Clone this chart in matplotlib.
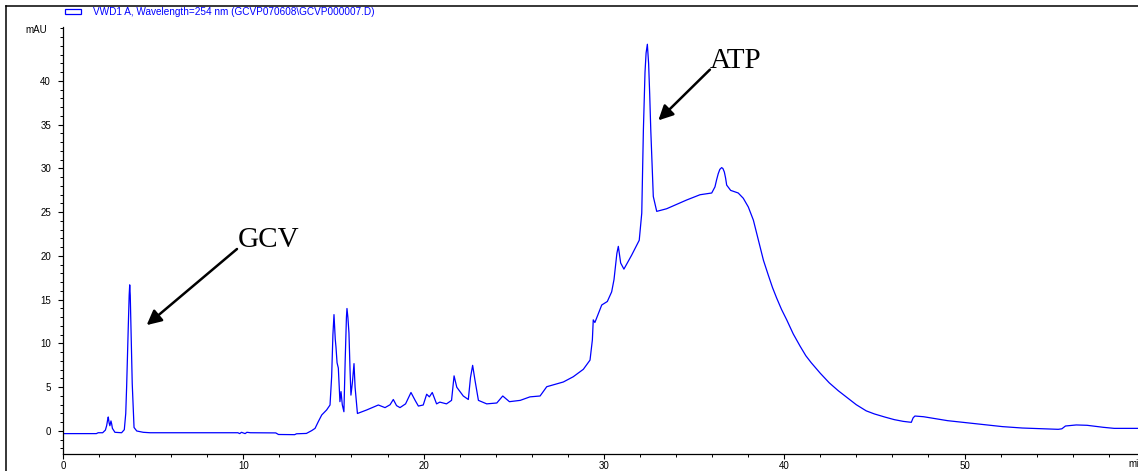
import matplotlib
matplotlib.use("Agg")
import matplotlib.pyplot as plt
from matplotlib.lines import Line2D
from matplotlib.patches import Rectangle
from matplotlib.ticker import MultipleLocator

# Retention time (min) and detector signal (mAU) of the chromatogram trace
retention_time = [
    0.0, 1.85, 1.95, 2.2, 2.35, 2.42, 2.47, 2.51, 2.56, 2.6, 2.66, 2.7, 2.74, 2.88,
    3.25, 3.4, 3.48, 3.53, 3.58, 3.62, 3.67, 3.7, 3.73, 3.77, 3.84, 3.94, 4.09, 4.45, 4.83,
    9.7, 9.8, 9.9, 10.1, 10.2, 10.4, 11.8, 11.95, 12.85, 12.95, 13.5, 13.8, 13.98,
    14.16, 14.35, 14.62, 14.81, 14.9, 14.97, 15.03, 15.1, 15.14, 15.2, 15.27, 15.36,
    15.42, 15.49, 15.58, 15.65, 15.72, 15.75, 15.8, 15.86, 15.92, 15.97, 16.05, 16.14,
    16.2, 16.33, 16.84, 17.49, 17.86, 18.14, 18.32, 18.5, 18.69, 19.0, 19.3, 19.53,
    19.71, 19.98, 20.17, 20.32, 20.48, 20.72, 20.9, 21.27, 21.55, 21.69, 21.84, 22.2,
    22.48, 22.6, 22.72, 22.85, 23.04, 23.5, 24.06, 24.39, 24.76, 25.36, 25.9, 26.46,
    26.83, 27.75, 28.3, 28.86, 29.23, 29.36, 29.41, 29.5, 29.69, 29.88, 30.19, 30.43,
    30.56, 30.62, 30.72, 30.8, 30.93, 31.11, 31.54, 31.96, 32.1, 32.19, 32.28, 32.34,
    32.41, 32.48, 32.54, 32.6, 32.74, 32.93, 33.48, 34.59, 35.33, 35.98, 36.16, 36.25,
    36.34, 36.43, 36.53, 36.6, 36.68, 36.75, 36.81, 37.03, 37.45, 37.73, 38.01, 38.29,
    38.45, 38.66, 38.85, 39.12, 39.35, 39.58, 39.85, 40.14, 40.5, 40.88, 41.2, 41.5,
    42.0, 42.5, 43.0, 43.5, 44.0, 44.55, 45.0, 45.57, 46.1, 46.6, 47.05, 47.15, 47.25,
    47.73, 49.06, 50.08, 51.1, 52.1, 53.2, 54.2, 55.2, 55.4, 55.6, 56.2, 56.8, 57.7,
    58.3, 59.7, 62.0,
]
absorbance = [
    -0.3, -0.3, -0.2, -0.2, 0.1, 0.6, 1.2, 1.6, 0.9, 0.6, 1.15, 0.8, 0.3, -0.15,
    -0.2, 0.15, 2.0, 5.1, 9.0, 11.9, 15.5, 16.7, 15.5, 11.9, 5.4, 0.4, 0.0, -0.15, -0.2,
    -0.2, -0.3, -0.15, -0.3, -0.15, -0.2, -0.22, -0.4, -0.42, -0.32, -0.28, 0.05, 0.3,
    1.07, 1.83, 2.4, 2.97, 6.2, 11.0, 13.3, 10.5, 9.6, 7.8, 7.2, 3.35,
    4.5, 3.0, 2.2, 8.0, 13.0, 14.0, 13.0, 11.2, 7.0, 4.1, 5.5, 7.7,
    5.0, 2.0, 2.4, 2.97, 2.67, 3.0, 3.6, 2.9, 2.67, 3.1, 4.4, 3.5,
    2.85, 2.97, 4.2, 3.9, 4.4, 3.1, 3.3, 3.1, 3.5, 6.3, 5.0, 4.0,
    3.6, 6.1, 7.5, 5.8, 3.5, 3.1, 3.2, 4.0, 3.35, 3.5, 3.9, 4.0,
    5.06, 5.6, 6.2, 7.05, 8.1, 10.4, 12.7, 12.4, 13.4, 14.4, 14.8, 15.9,
    17.3, 18.4, 20.3, 21.1, 19.2, 18.5, 20.1, 21.8, 24.9, 34.4, 41.0, 43.2,
    44.2, 42.0, 38.5, 34.4, 26.8, 25.1, 25.4, 26.4, 27.0, 27.2, 27.9, 28.7,
    29.4, 29.9, 30.1, 30.0, 29.6, 28.9, 28.1, 27.5, 27.2, 26.6, 25.6, 24.1,
    22.8, 21.1, 19.5, 17.8, 16.4, 15.2, 13.9, 12.7, 11.1, 9.7, 8.6, 7.8,
    6.6, 5.5, 4.6, 3.8, 3.0, 2.3, 1.95, 1.6, 1.3, 1.1, 0.99, 1.5, 1.71,
    1.63, 1.18, 0.95, 0.72, 0.5, 0.34, 0.27, 0.19, 0.25, 0.57, 0.69, 0.65, 0.42,
    0.3, 0.3, 0.28,
]

x_major_ticks = [0, 10, 20, 30, 40, 50]
y_major_ticks = [0, 5, 10, 15, 20, 25, 30, 35, 40]
legend_text = "VWD1 A, Wavelength=254 nm (GCVP070608\\GCVP000007.D)"

# Peak labels: (text, arrow tip, arrow tail, text position) in data units
peak_labels = [
    ("GCV", (4.64, 12.1), (9.65, 20.8), (11.4, 21.8)),
    ("ATP", (33.02, 35.5), (35.88, 41.3), (37.3, 42.3)),
]

W, H = 1138, 471
fig = plt.figure(figsize=(W / 100, H / 100), dpi=100)
fig.patch.set_facecolor("white")

x_min, x_max = 0.0, 62.0
y_min, y_max = -2.63, 46.2
px_per_min = 18.03
ax_left = 63 / W
ax_width = (x_max - x_min) * px_per_min / W
ax_bottom = (H - 454) / H
ax_height = (454 - 26.75) / H
ax = fig.add_axes([ax_left, ax_bottom, ax_width, ax_height])
ax.set_xlim(x_min, x_max)
ax.set_ylim(y_min, y_max)

ax.plot(retention_time, absorbance, color="#0000ff", lw=0.9, solid_joinstyle="round")

for side in ("top", "right"):
    ax.spines[side].set_visible(False)
for side in ("left", "bottom"):
    ax.spines[side].set_linewidth(0.9)
    ax.spines[side].set_color("black")

ax.set_xticks(x_major_ticks)
ax.set_yticks(y_major_ticks)
ax.xaxis.set_minor_locator(MultipleLocator(2))
ax.yaxis.set_minor_locator(MultipleLocator(1))
tick_font = dict(family="Liberation Sans", size=7)
ax.set_xticklabels([str(v) for v in x_major_ticks], **tick_font)
ax.set_yticklabels([str(v) for v in y_major_ticks], **tick_font)
ax.tick_params(axis="both", which="major", length=3.6, width=0.8, direction="out", color="black")
ax.tick_params(axis="both", which="minor", length=2.2, width=0.7, direction="out", color="black")
ax.tick_params(axis="x", which="major", pad=1.5)
ax.tick_params(axis="y", which="major", pad=5)

# Axis unit captions (the time unit runs off the right edge of the page)
fig.text(25 / W, 1 - 30 / H, "mAU", ha="left", va="center", family="Liberation Sans", size=7)
ax.text(59.1, -3.2, "min", ha="left", va="top", family="Liberation Sans", size=7,
        clip_on=False)

# Legend entry at top
fig.patches.append(Rectangle((65 / W, 1 - 13.5 / H), 16 / W, 4.5 / H, transform=fig.transFigure,
                             fill=False, edgecolor="#0000ff", lw=0.9))
fig.text(93 / W, 1 - 12 / H, legend_text, ha="left", va="center", color="#0000ff",
         family="Liberation Sans", size=7.2)

# Outer frame
fig.add_artist(Line2D([6 / W, 6 / W], [0, 1 - 6 / H], color="black", lw=1.1, transform=fig.transFigure))
fig.add_artist(Line2D([6 / W, 1], [1 - 6 / H, 1 - 6 / H], color="black", lw=1.1, transform=fig.transFigure))

for text, tip, tail, pos in peak_labels:
    ax.annotate("", xy=tip, xytext=tail,
                arrowprops=dict(arrowstyle="-|>", color="black", lw=1.8, mutation_scale=22,
                                shrinkA=0, shrinkB=0))
    ax.text(pos[0], pos[1], text, ha="center", va="center", family="Liberation Serif", size=21)

fig.savefig("out.png", dpi=100)
